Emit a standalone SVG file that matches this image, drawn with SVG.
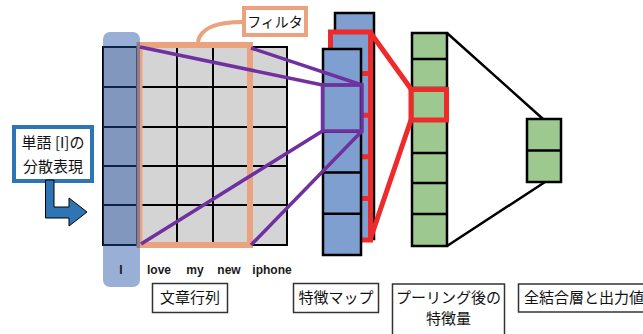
<svg xmlns="http://www.w3.org/2000/svg" width="643" height="334" viewBox="0 0 643 334">
<style>
.jp{font-family:"Noto Sans CJK JP","Noto Sans",sans-serif;font-size:15px;fill:#111}
.w{font-family:"Liberation Sans",Arial,sans-serif;font-size:12px;font-weight:bold;fill:#1a1a1a;text-anchor:middle}
.lbl{fill:#fff;stroke:#333;stroke-width:1.5}
.grid{fill:none;stroke:#000;stroke-width:2}
.fm{fill:#7f9fd0;stroke:#000;stroke-width:2.5}
.gr{fill:#9dc991;stroke:#000;stroke-width:2.5}
.pur{stroke:#7030a0;stroke-width:3.5;fill:none}
.red{stroke:#ee2b2b;stroke-width:5;fill:none}
.blk{stroke:#000;stroke-width:2.5;fill:none}
</style>

<g id="sentence-matrix">
  <rect x="103" y="47" width="184" height="198" fill="#d4d4d4"/>
  <path class="grid" d="M103,47H287V245H103Z M103,87H287 M103,127H287 M103,166H287 M103,205H287 M137,47V245 M177,47V245 M213,47V245 M250,47V245"/>
</g>

<g id="filter">
  <rect x="139.5" y="45" width="110.5" height="200" fill="none" stroke="#eba27e" stroke-width="6"/>
  <path d="M243,22 C213,22 200,29 198,42" fill="none" stroke="#eba27e" stroke-width="4"/>
  <rect x="244" y="8" width="62" height="27" fill="#fff" stroke="#eba27e" stroke-width="4"/>
  <text class="jp" x="275" y="27" text-anchor="middle" style="font-size:14px">フィルタ</text>
</g>

<g id="word-vector">
  <rect x="103" y="32" width="37" height="255" rx="7" fill="#1f4ea2" fill-opacity="0.45"/>
  <text class="w" x="121" y="274">I</text>
</g>

<g id="words">
  <text class="w" x="159" y="274">love</text>
  <text class="w" x="195" y="274">my</text>
  <text class="w" x="229" y="274">new</text>
  <text class="w" x="272" y="274">iphone</text>
</g>

<g id="word-label">
  <rect x="14" y="127" width="78" height="54" fill="#fff" stroke="#2e75b6" stroke-width="4"/>
  <text class="jp" x="53" y="148" text-anchor="middle">単語 [I]の</text>
  <text class="jp" x="53" y="172" text-anchor="middle">分散表現</text>
  <polygon points="45.5,180 54,180 54,207 69,207 69,198 87,212 69,226 69,218 45.5,218" fill="#2e75b6" stroke="#000" stroke-width="1"/>
</g>

<g id="feature-maps">
  <rect class="fm" x="335" y="13" width="39" height="226"/>
  <rect x="330.5" y="32" width="40" height="208" fill="#7f9fd0" stroke="#ee2b2b" stroke-width="5"/>
  <path class="red" d="M330,73.6H370 M330,115.2H370 M330,156.8H370 M330,198.4H370"/>
  <rect class="fm" x="323" y="49" width="38" height="206"/>
  <path class="blk" d="M323,85H361 M323,131.4H361 M323,172.6H361 M323,213.8H361"/>
</g>

<g id="pooled">
  <rect class="gr" x="412" y="33" width="35" height="213"/>
  <path class="blk" d="M412,59H447 M412,88H447 M412,120H447 M412,153H447 M412,183H447 M412,214H447"/>
  <rect x="411" y="89.5" width="35.5" height="30.5" fill="none" stroke="#ee2b2b" stroke-width="5"/>
</g>

<g id="fully-connected">
  <rect class="gr" x="527" y="119" width="34" height="63"/>
  <path class="blk" d="M527,150.5H561"/>
</g>

<g id="connectors">
  <path class="pur" d="M140,47L322.5,85 M251,48L362,85 M141,244L322.5,131 M251,245L362,131"/>
  <rect class="pur" x="322.5" y="85" width="39.5" height="46"/>
  <path class="red" d="M370,32L411,89 M411,120L370,240"/>
  <path class="blk" d="M447,33L543,119 M447,246L545,182"/>
</g>

<g id="labels">
  <rect class="lbl" x="152.5" y="283.5" width="75" height="29"/>
  <text class="jp" x="190" y="303" text-anchor="middle">文章行列</text>
  <rect class="lbl" x="293.5" y="283.5" width="85" height="29"/>
  <text class="jp" x="336" y="303" text-anchor="middle">特徴マップ</text>
  <rect class="lbl" x="392.5" y="284" width="112" height="60"/>
  <text class="jp" x="448.5" y="303" text-anchor="middle">プーリング後の</text>
  <text class="jp" x="448.5" y="324" text-anchor="middle">特徴量</text>
  <rect class="lbl" x="518.5" y="284" width="140" height="28"/>
  <text class="jp" x="524" y="303">全結合層と出力値</text>
</g>
</svg>
